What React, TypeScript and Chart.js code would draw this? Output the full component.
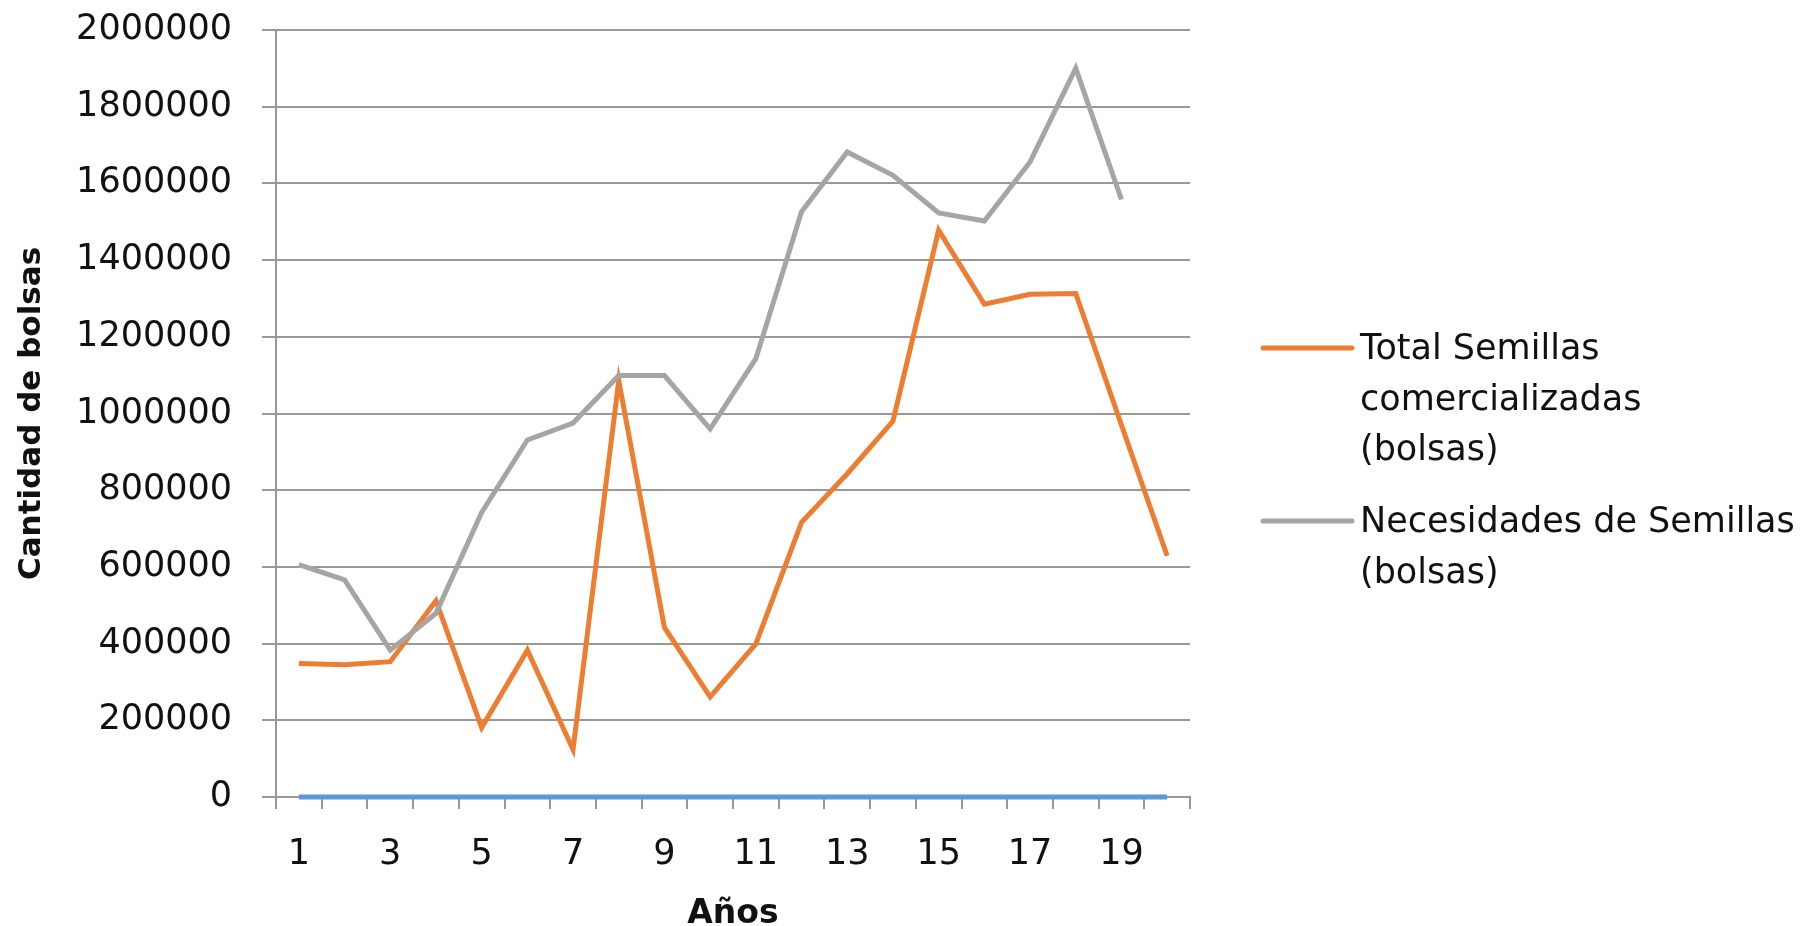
import React, { useEffect, useRef } from "react";
import { Chart, registerables } from "chart.js";

Chart.register(...registerables);

const years: string[] = ["1","2","3","4","5","6","7","8","9","10","11","12","13","14","15","16","17","18","19","20"];
const baseSeries: number[] = [0,0,0,0,0,0,0,0,0,0,0,0,0,0,0,0,0,0,0,0];
const totalSemillas: number[] = [348000,345000,353000,512000,181000,383000,124000,1086000,442000,261000,399000,716000,843000,980000,1478000,1285000,1311000,1313000,970000,629000];
const necesidades: (number | null)[] = [606000,566000,383000,479000,742000,931000,975000,1099000,1099000,960000,1143000,1526000,1682000,1621000,1523000,1502000,1656000,1900000,1558000,null];
const yTicks: number[] = [0,200000,400000,600000,800000,1000000,1200000,1400000,1600000,1800000,2000000];

const legendItems: { color: string; lines: string[] }[] = [
  { color: "#ED7D31", lines: ["Total Semillas", "comercializadas", "(bolsas)"] },
  { color: "#A5A5A5", lines: ["Necesidades de Semillas", "(bolsas)"] },
];

const FONT = "'DejaVu Sans', sans-serif";

const legendPlugin = {
  id: "customLegend",
  afterDraw(chart: any) {
    const ctx = chart.ctx;
    ctx.save();
    ctx.font = `35px ${FONT}`;
    ctx.fillStyle = "#111";
    ctx.textBaseline = "middle";
    ctx.textAlign = "left";
    const starts = [350, 523];
    legendItems.forEach((item, i) => {
      const y0 = starts[i];
      ctx.strokeStyle = item.color;
      ctx.lineWidth = 5;
      ctx.lineCap = "round";
      ctx.beginPath();
      ctx.moveTo(1263, y0 - 2);
      ctx.lineTo(1352, y0 - 2);
      ctx.stroke();
      item.lines.forEach((t, j) => {
        ctx.fillText(t, 1360, y0 + j * 50.5);
      });
    });
    ctx.restore();
  },
};

export default function App() {
  const ref = useRef<HTMLCanvasElement | null>(null);
  useEffect(() => {
    if (!ref.current) return;
    const chart = new Chart(ref.current, {
      type: "line",
      data: {
        labels: years,
        datasets: [
          { label: "Serie base", data: baseSeries, borderColor: "#5B9BD5", borderWidth: 5, pointRadius: 0, order: 2, tension: 0, clip: false },
          { label: "Total Semillas comercializadas (bolsas)", data: totalSemillas, borderColor: "#ED7D31", borderWidth: 5, pointRadius: 0, order: 1, tension: 0, clip: false },
          { label: "Necesidades de Semillas (bolsas)", data: necesidades, borderColor: "#A5A5A5", borderWidth: 5, pointRadius: 0, order: 0, tension: 0, clip: false },
        ],
      },
      options: {
        responsive: false,
        animation: false,
        layout: { padding: { left: 0, top: 30, right: 626, bottom: 0 } },
        plugins: { legend: { display: false }, tooltip: { enabled: false } },
        scales: {
          x: {
            type: "category",
            offset: true,
            grid: { display: true, drawOnChartArea: false, drawTicks: true, tickLength: 12, color: "#999", lineWidth: 2, offset: true },
            border: { display: true, color: "#999", width: 2 },
            ticks: {
              autoSkip: false,
              maxRotation: 0,
              color: "#111",
              font: { family: FONT, size: 35 },
              padding: 25,
              callback: (_v: any, i: number) => (i % 2 === 0 ? years[i] : ""),
            },
            title: { display: true, text: "Años", color: "#111", font: { family: FONT, size: 33, weight: "bold" }, padding: { top: 0, bottom: -8 } },
            afterFit: (s: any) => { s.height = 129; s.paddingLeft = 0; s.paddingRight = 0; },
          },
          y: {
            min: 0,
            max: 2000000,
            afterBuildTicks: (s: any) => { s.ticks = yTicks.map((v) => ({ value: v })); },
            grid: { color: "#999", lineWidth: 2, drawTicks: true, tickLength: 14 },
            border: { display: true, color: "#999", width: 2 },
            ticks: { color: "#111", font: { family: FONT, size: 35 }, padding: 30, callback: (v: any) => String(v) },
            title: { display: true, text: "Cantidad de bolsas", color: "#111", font: { family: FONT, size: 31, weight: "bold" }, padding: { top: 13, bottom: 0 } },
            afterFit: (s: any) => { s.width = 276; s.paddingTop = 0; s.paddingBottom = 0; },
          },
        },
      },
      plugins: [legendPlugin],
    });
    return () => chart.destroy();
  }, []);
  return (
    <div style={{ position: "fixed", left: 0, top: 0, width: 1816, height: 926, background: "#fff" }}>
      <canvas ref={ref} width={1816} height={926} style={{ display: "block" }} />
    </div>
  );
}
